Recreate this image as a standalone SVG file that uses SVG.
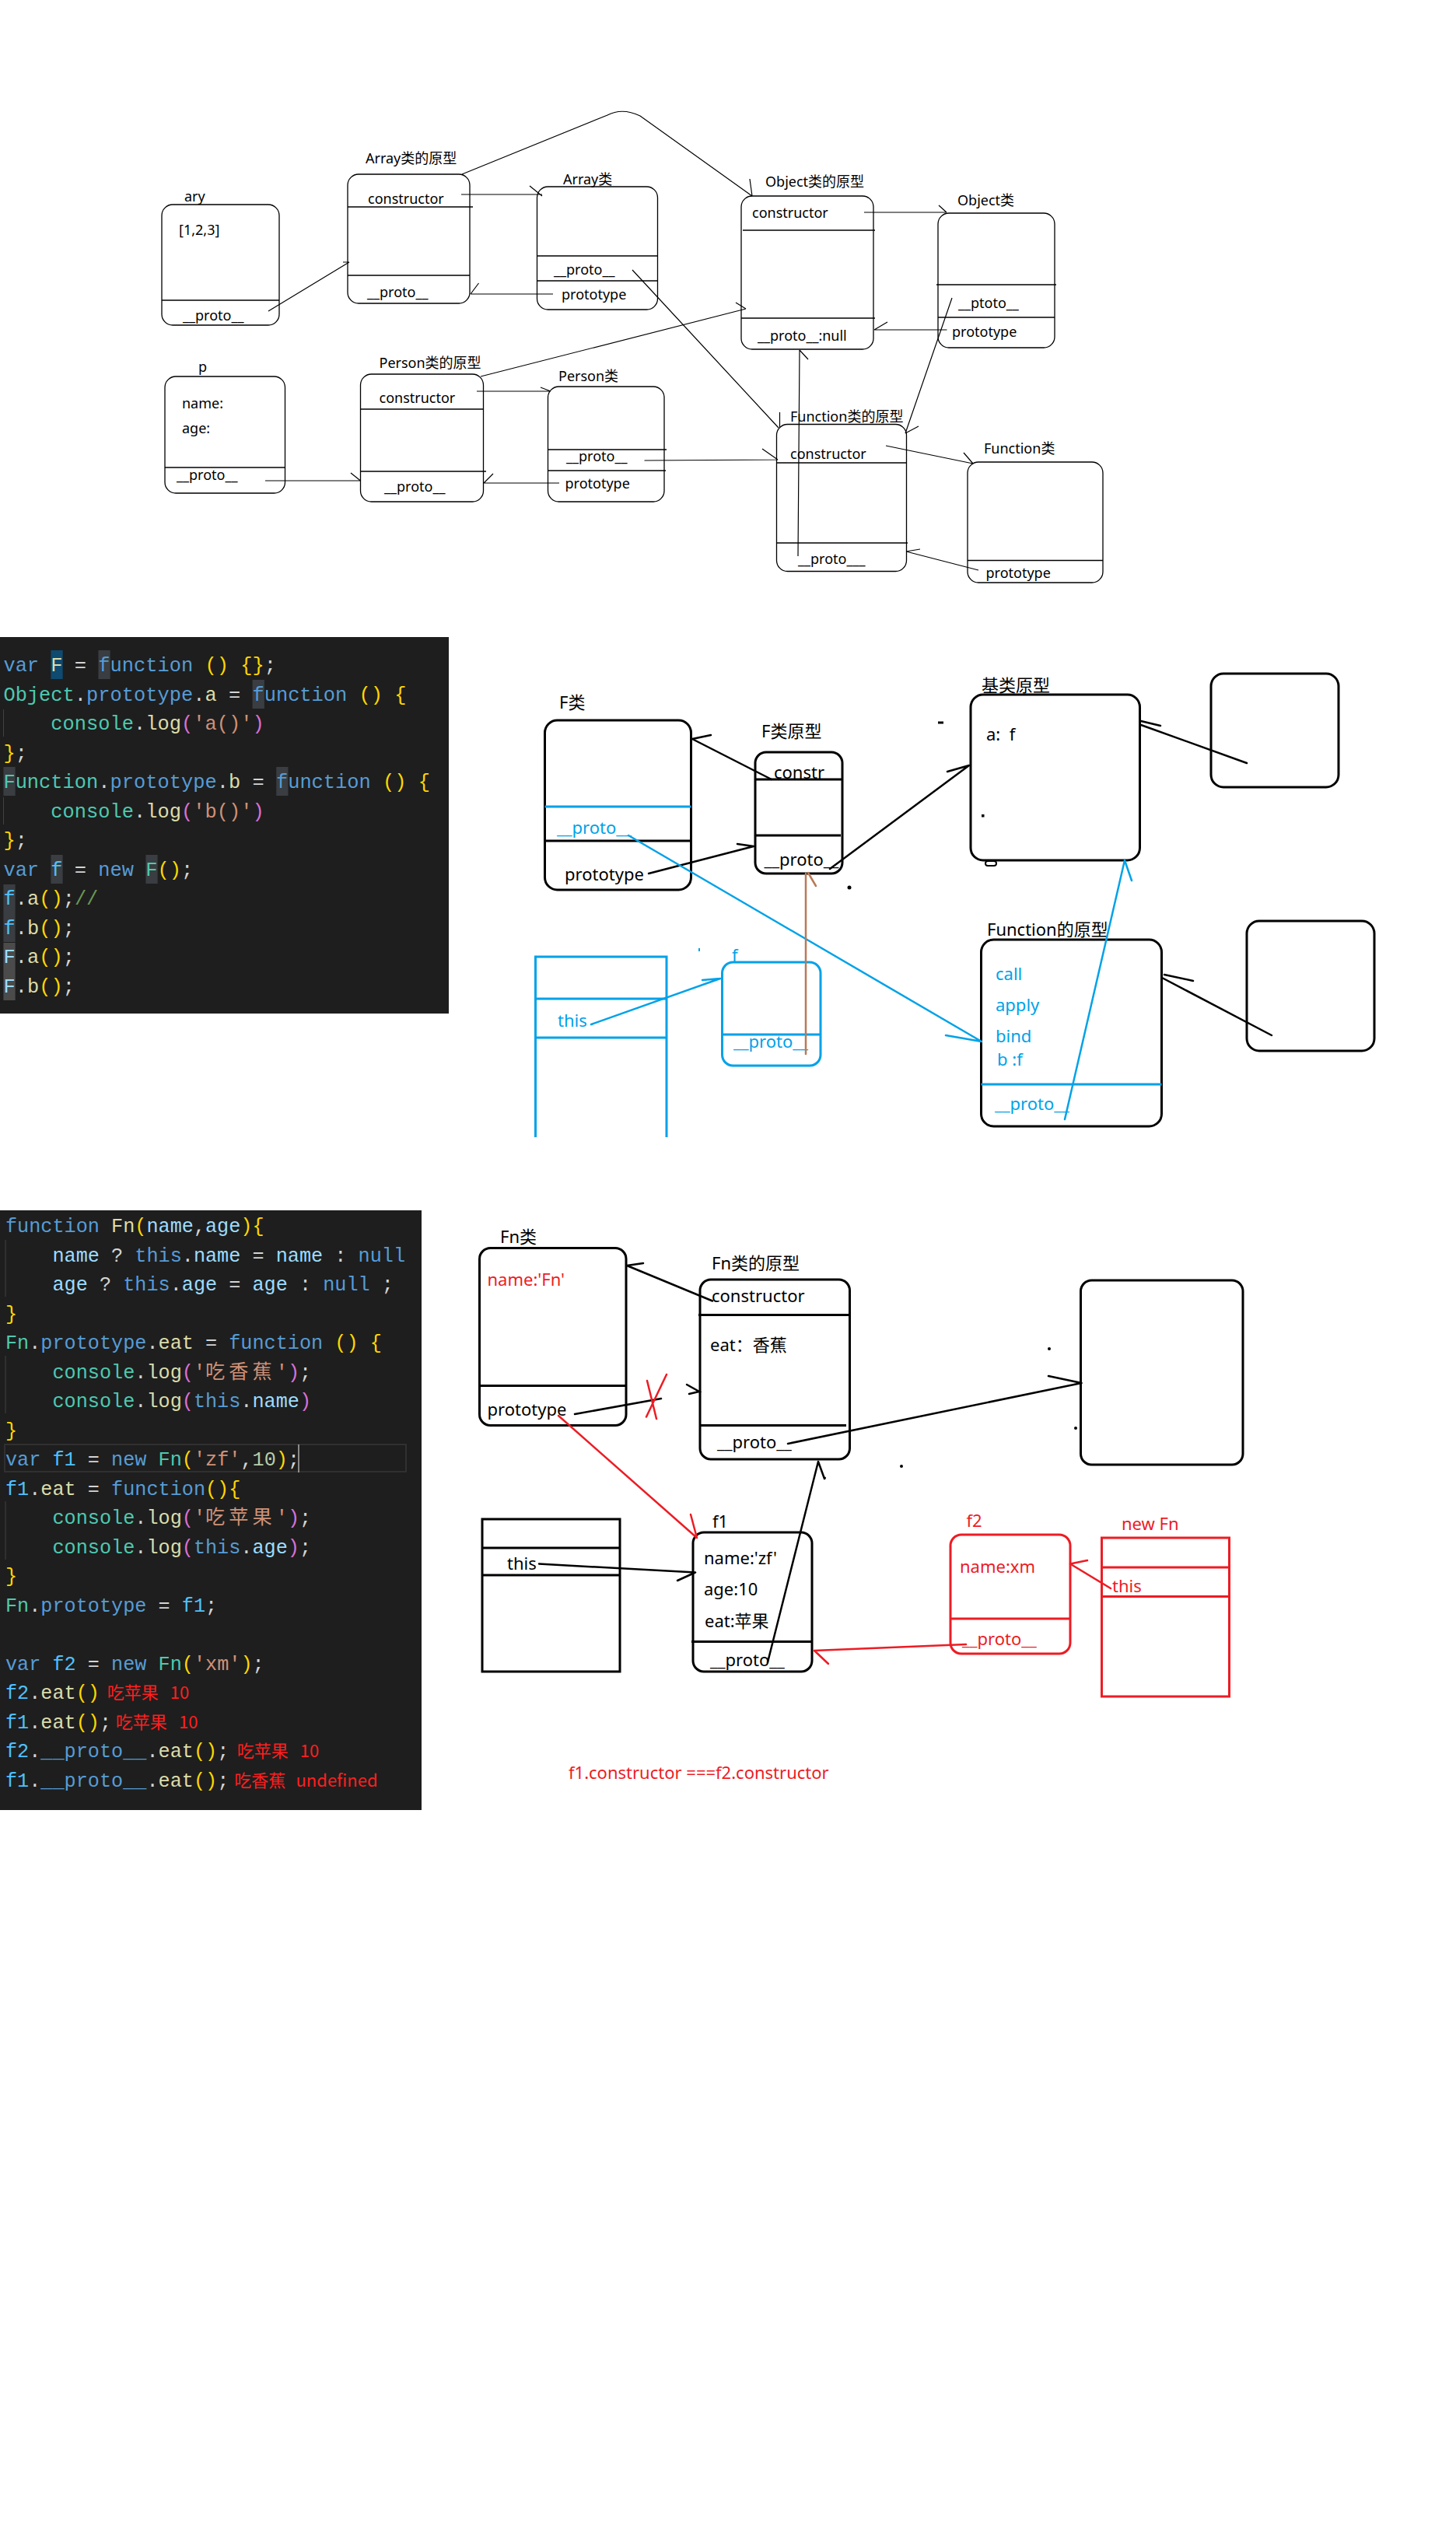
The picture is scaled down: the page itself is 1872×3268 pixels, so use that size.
<svg xmlns="http://www.w3.org/2000/svg" width="1872" height="3268" viewBox="0 0 1872 3268">
<style>
.s18{font-family:"Noto Sans","Noto Sans CJK SC",sans-serif;font-size:18px;fill:#000}
.s22{font-family:"Noto Sans","Noto Sans CJK SC",sans-serif;font-size:22px;fill:#000}
.bl{fill:#00A2E8}
.rd{fill:#ED1C24}
.b1{fill:none;stroke:#000;stroke-width:1.3}
.b3{fill:none;stroke:#000;stroke-width:3}
.bb3{fill:none;stroke:#00A2E8;stroke-width:3}
.br3{fill:none;stroke:#ED1C24;stroke-width:3}
.l1{fill:none;stroke:#000;stroke-width:1.2}
.l2{fill:none;stroke:#000;stroke-width:2.5;stroke-linecap:round}
.lb{fill:none;stroke:#00A2E8;stroke-width:2.5;stroke-linecap:round}
.lr{fill:none;stroke:#ED1C24;stroke-width:2.5;stroke-linecap:round}
.lbr{fill:none;stroke:#B97A57;stroke-width:2.5;stroke-linecap:round}
.code1{font-family:"Liberation Mono","Noto Sans CJK SC",monospace;font-size:25.4px;fill:#D4D4D4}
.code2{font-family:"Liberation Mono","Noto Sans CJK SC",monospace;font-size:25.2px;fill:#D4D4D4}
.kw{fill:#569CD6}.ty{fill:#4EC9B0}.fn{fill:#DCDCAA}.br{fill:#FFD700}.pa{fill:#DA70D6}.st{fill:#CE9178}.vr{fill:#4FC1FF}.pr{fill:#9CDCFE}.nu{fill:#B5CEA8}.cm{fill:#6A9955}
.ann{font-family:"Noto Sans CJK SC","Noto Sans",sans-serif;font-size:22px;fill:#FF1F1F}
.hl{fill:#3A3D41}
.guide{stroke:#404040;stroke-width:1}
</style>

<!-- ================= TOP DIAGRAM ================= -->
<g id="ary">
<rect class="b1" x="208" y="263" width="151" height="155" rx="14"/>
<line class="b1" x1="208" y1="386" x2="359" y2="386"/>
<text class="s18" x="237" y="259">ary</text>
<text class="s18" x="230" y="302">[1,2,3]</text>
<text class="s18" x="235" y="412">__proto__</text>
</g>
<g id="array-proto">
<rect class="b1" x="447" y="224" width="157" height="166" rx="14"/>
<line class="b1" x1="447" y1="266" x2="608" y2="266"/>
<line class="b1" x1="447" y1="354" x2="604" y2="354"/>
<text class="s18" x="470" y="210">Array类的原型</text>
<text class="s18" x="473" y="262">constructor</text>
<text class="s18" x="472" y="382">__proto__</text>
</g>
<g id="array-class">
<rect class="b1" x="690.5" y="240" width="155" height="158" rx="14"/>
<line class="b1" x1="690.5" y1="329" x2="846" y2="329"/>
<line class="b1" x1="690.5" y1="361" x2="846" y2="361"/>
<text class="s18" x="724" y="237">Array类</text>
<text class="s18" x="712" y="353">__proto__</text>
<text class="s18" x="722" y="385">prototype</text>
</g>
<g id="object-proto">
<rect class="b1" x="953" y="252" width="170" height="197" rx="14"/>
<line class="b1" x1="955" y1="296" x2="1125" y2="296"/>
<line class="b1" x1="953" y1="409" x2="1125" y2="409"/>
<text class="s18" x="984" y="240">Object类的原型</text>
<text class="s18" x="967" y="280">constructor</text>
<text class="s18" x="974" y="438">__proto__:null</text>
</g>
<g id="object-class">
<rect class="b1" x="1206" y="274" width="150" height="173" rx="14"/>
<line class="b1" x1="1204" y1="366" x2="1358" y2="366"/>
<line class="b1" x1="1206" y1="408" x2="1356" y2="408"/>
<text class="s18" x="1231" y="264">Object类</text>
<text class="s18" x="1232" y="396">__ptoto__</text>
<text class="s18" x="1224" y="433">prototype</text>
</g>
<g id="p">
<rect class="b1" x="212" y="484" width="154.5" height="150" rx="14"/>
<line class="b1" x1="212" y1="601" x2="366.5" y2="601"/>
<text class="s18" x="255" y="478">p</text>
<text class="s18" x="234" y="525">name:</text>
<text class="s18" x="234" y="557">age:</text>
<text class="s18" x="227" y="617">__proto__</text>
</g>
<g id="person-proto">
<rect class="b1" x="463.5" y="481" width="158" height="164" rx="14"/>
<line class="b1" x1="463.5" y1="526" x2="622" y2="526"/>
<line class="b1" x1="463.5" y1="606" x2="625" y2="606"/>
<text class="s18" x="487.5" y="473">Person类的原型</text>
<text class="s18" x="487.5" y="518">constructor</text>
<text class="s18" x="494" y="632">__proto__</text>
</g>
<g id="person-class">
<rect class="b1" x="704.5" y="497" width="149.5" height="148" rx="14"/>
<line class="b1" x1="704.5" y1="578" x2="857" y2="578"/>
<line class="b1" x1="704.5" y1="605" x2="856" y2="605"/>
<text class="s18" x="718" y="490">Person类</text>
<text class="s18" x="728" y="593">__proto__</text>
<text class="s18" x="726.5" y="628">prototype</text>
</g>
<g id="function-proto">
<rect class="b1" x="998.5" y="545.5" width="167" height="189" rx="14"/>
<line class="b1" x1="998.5" y1="595" x2="1165.5" y2="595"/>
<line class="b1" x1="998.5" y1="698" x2="1167" y2="698"/>
<text class="s18" x="1016" y="542">Function类的原型</text>
<text class="s18" x="1016" y="590">constructor</text>
<text class="s18" x="1026" y="725">__proto___</text>
</g>
<g id="function-class">
<rect class="b1" x="1244" y="594" width="174" height="155" rx="14"/>
<line class="b1" x1="1244" y1="720.5" x2="1418" y2="720.5"/>
<text class="s18" x="1265" y="583">Function类</text>
<text class="s18" x="1267.5" y="743">prototype</text>
</g>

<!-- ================= CODE BLOCK 1 ================= -->
<g id="code1">
<rect x="0" y="819" width="577" height="484" fill="#1E1E1E"/>
<rect x="65.4" y="836" width="15.25" height="37" fill="#0F4A70"/>
<rect class="hl" x="126.4" y="836" width="15.25" height="37"/>
<rect class="hl" x="324.6" y="874" width="15.25" height="37"/>
<rect class="hl" x="4.4" y="986" width="15.25" height="37"/>
<rect class="hl" x="355.2" y="986" width="15.25" height="37"/>
<rect class="hl" x="65.4" y="1099" width="15.25" height="37"/>
<rect class="hl" x="187.4" y="1099" width="15.25" height="37"/>
<rect class="hl" x="4.4" y="1137" width="15.25" height="74"/>
<rect x="4.4" y="1212" width="15.25" height="74" fill="#4B4B4B"/>
<line class="guide" x1="4.5" y1="912" x2="4.5" y2="947"/>
<line class="guide" x1="4.5" y1="1025" x2="4.5" y2="1060"/>
<text class="code1" x="4.4" y="863" xml:space="preserve"><tspan class="kw">var</tspan> <tspan class="fn">F</tspan> = <tspan class="kw">function</tspan> <tspan class="br">()</tspan> <tspan class="br">{}</tspan>;</text>
<text class="code1" x="4.4" y="900.5" xml:space="preserve"><tspan class="ty">Object</tspan>.<tspan class="kw">prototype</tspan>.<tspan class="fn">a</tspan> = <tspan class="kw">function</tspan> <tspan class="br">()</tspan> <tspan class="br">{</tspan></text>
<text class="code1" x="4.4" y="938" xml:space="preserve">    <tspan class="ty">console</tspan>.<tspan class="fn">log</tspan><tspan class="pa">(</tspan><tspan class="st">'a()'</tspan><tspan class="pa">)</tspan></text>
<text class="code1" x="4.4" y="975.5" xml:space="preserve"><tspan class="br">}</tspan>;</text>
<text class="code1" x="4.4" y="1013" xml:space="preserve"><tspan class="ty">Function</tspan>.<tspan class="kw">prototype</tspan>.<tspan class="fn">b</tspan> = <tspan class="kw">function</tspan> <tspan class="br">()</tspan> <tspan class="br">{</tspan></text>
<text class="code1" x="4.4" y="1050.5" xml:space="preserve">    <tspan class="ty">console</tspan>.<tspan class="fn">log</tspan><tspan class="pa">(</tspan><tspan class="st">'b()'</tspan><tspan class="pa">)</tspan></text>
<text class="code1" x="4.4" y="1088" xml:space="preserve"><tspan class="br">}</tspan>;</text>
<text class="code1" x="4.4" y="1125.5" xml:space="preserve"><tspan class="kw">var</tspan> <tspan class="vr">f</tspan> = <tspan class="kw">new</tspan> <tspan class="ty">F</tspan><tspan class="br">()</tspan>;</text>
<text class="code1" x="4.4" y="1163" xml:space="preserve"><tspan class="vr">f</tspan>.<tspan class="fn">a</tspan><tspan class="br">()</tspan>;<tspan class="cm">//</tspan></text>
<text class="code1" x="4.4" y="1200.5" xml:space="preserve"><tspan class="vr">f</tspan>.<tspan class="fn">b</tspan><tspan class="br">()</tspan>;</text>
<text class="code1" x="4.4" y="1238" xml:space="preserve"><tspan class="pr">F</tspan>.<tspan class="fn">a</tspan><tspan class="br">()</tspan>;</text>
<text class="code1" x="4.4" y="1275.5" xml:space="preserve"><tspan class="pr">F</tspan>.<tspan class="fn">b</tspan><tspan class="br">()</tspan>;</text>
</g>

<!-- ================= MIDDLE DIAGRAM ================= -->
<g id="F-class">
<rect class="b3" x="700.5" y="926" width="188" height="218" rx="16"/>
<line class="bb3" x1="700.5" y1="1037" x2="888.5" y2="1037"/>
<line class="b3" x1="700.5" y1="1081" x2="888.5" y2="1081"/>
<text class="s22" x="719" y="911">F类</text>
<text class="s22 bl" x="716" y="1072">__proto__</text>
<text class="s22" x="726" y="1132">prototype</text>
</g>
<g id="F-proto">
<rect class="b3" x="971" y="967" width="112" height="156" rx="14"/>
<line class="b3" x1="971" y1="1002" x2="1083" y2="1002"/>
<line class="b3" x1="971" y1="1074" x2="1081" y2="1074"/>
<text class="s22" x="979" y="948">F类原型</text>
<text class="s22" x="995" y="1001">constr</text>
<text class="s22" x="982.5" y="1113">__proto__</text>
</g>
<g id="base-proto">
<rect class="b3" x="1248" y="893" width="217.5" height="213" rx="16"/>
<rect x="1267" y="1107" width="14" height="6" rx="3" fill="none" stroke="#000" stroke-width="2"/>
<rect x="1262" y="1047" width="3.5" height="3.5" fill="#000"/>
<text class="s22" x="1262" y="889">基类原型</text>
<text class="s22" x="1268" y="952" xml:space="preserve">a:  f</text>
</g>
<g id="box-right-1">
<rect class="b3" x="1557" y="866" width="164" height="146" rx="16"/>
</g>
<g id="function-proto-2">
<rect class="b3" x="1261.5" y="1208" width="232" height="240" rx="16"/>
<line class="bb3" x1="1261.5" y1="1394" x2="1493.5" y2="1394"/>
<text class="s22" x="1269" y="1203">Function的原型</text>
<text class="s22 bl" x="1280" y="1260">call</text>
<text class="s22 bl" x="1280" y="1300">apply</text>
<text class="s22 bl" x="1280" y="1340">bind</text>
<text class="s22 bl" x="1282" y="1370">b :f</text>
<text class="s22 bl" x="1279" y="1427">__proto__</text>
</g>
<g id="box-right-2">
<rect class="b3" x="1603" y="1184" width="164" height="167" rx="16"/>
</g>
<g id="this-frame-1">
<path class="bb3" d="M688.5,1462 V1230 H857 V1462"/>
<line class="bb3" x1="688.5" y1="1284" x2="857" y2="1284"/>
<line class="bb3" x1="688.5" y1="1334" x2="857" y2="1334"/>
<text class="s22 bl" x="717" y="1320">this</text>
</g>
<g id="f-obj">
<rect class="bb3" x="928.5" y="1237" width="126.5" height="133" rx="14"/>
<line class="bb3" x1="928.5" y1="1330" x2="1055" y2="1330"/>
<text class="s22 bl" x="941" y="1236">f</text>
<text class="s22 bl" x="943" y="1347">__proto__</text>
</g>
<g id="stray-marks-1">
<circle cx="1092" cy="1141" r="2.5" fill="#000"/>
<rect x="1206" y="927.5" width="7" height="3" fill="#000"/>
<rect x="898" y="1219" width="2" height="4" fill="#00A2E8"/>
</g>

<!-- ================= CODE BLOCK 2 ================= -->
<g id="code2">
<rect x="0" y="1556" width="542" height="771" fill="#1E1E1E"/>
<rect x="6" y="1857" width="516" height="35" fill="none" stroke="#303030" stroke-width="2"/>
<line x1="384" y1="1857" x2="384" y2="1893" stroke="#AEAFAD" stroke-width="1.5"/>
<line class="guide" x1="7" y1="1594" x2="7" y2="1667"/>
<line class="guide" x1="7" y1="1743" x2="7" y2="1817"/>
<line class="guide" x1="7" y1="1930" x2="7" y2="2005"/>
<text class="code2" x="7" y="1584" xml:space="preserve"><tspan class="kw">function</tspan> <tspan class="fn">Fn</tspan><tspan class="br">(</tspan><tspan class="pr">name</tspan>,<tspan class="pr">age</tspan><tspan class="br">){</tspan></text>
<text class="code2" x="7" y="1621.5" xml:space="preserve">    <tspan class="pr">name</tspan> ? <tspan class="kw">this</tspan>.<tspan class="pr">name</tspan> = <tspan class="pr">name</tspan> : <tspan class="kw">null</tspan></text>
<text class="code2" x="7" y="1659" xml:space="preserve">    <tspan class="pr">age</tspan> ? <tspan class="kw">this</tspan>.<tspan class="pr">age</tspan> = <tspan class="pr">age</tspan> : <tspan class="kw">null</tspan> ;</text>
<text class="code2" x="7" y="1696.5" xml:space="preserve"><tspan class="br">}</tspan></text>
<text class="code2" x="7" y="1734" xml:space="preserve"><tspan class="ty">Fn</tspan>.<tspan class="kw">prototype</tspan>.<tspan class="fn">eat</tspan> = <tspan class="kw">function</tspan> <tspan class="br">()</tspan> <tspan class="br">{</tspan></text>
<text class="code2" x="7" y="1771.5" xml:space="preserve">    <tspan class="ty">console</tspan>.<tspan class="fn">log</tspan><tspan class="pa">(</tspan><tspan class="st">'</tspan><tspan class="st" letter-spacing="5.04">吃香蕉</tspan><tspan class="st" x="354.8">'</tspan><tspan class="pa">)</tspan>;</text>
<text class="code2" x="7" y="1809" xml:space="preserve">    <tspan class="ty">console</tspan>.<tspan class="fn">log</tspan><tspan class="pa">(</tspan><tspan class="kw">this</tspan>.<tspan class="pr">name</tspan><tspan class="pa">)</tspan></text>
<text class="code2" x="7" y="1846.5" xml:space="preserve"><tspan class="br">}</tspan></text>
<text class="code2" x="7" y="1884" xml:space="preserve"><tspan class="kw">var</tspan> <tspan class="vr">f1</tspan> = <tspan class="kw">new</tspan> <tspan class="ty">Fn</tspan><tspan class="br">(</tspan><tspan class="st">'zf'</tspan>,<tspan class="nu">10</tspan><tspan class="br">)</tspan>;</text>
<text class="code2" x="7" y="1921.5" xml:space="preserve"><tspan class="vr">f1</tspan>.<tspan class="fn">eat</tspan> = <tspan class="kw">function</tspan><tspan class="br">(){</tspan></text>
<text class="code2" x="7" y="1959" xml:space="preserve">    <tspan class="ty">console</tspan>.<tspan class="fn">log</tspan><tspan class="pa">(</tspan><tspan class="st">'</tspan><tspan class="st" letter-spacing="5.04">吃苹果</tspan><tspan class="st" x="354.8">'</tspan><tspan class="pa">)</tspan>;</text>
<text class="code2" x="7" y="1996.5" xml:space="preserve">    <tspan class="ty">console</tspan>.<tspan class="fn">log</tspan><tspan class="pa">(</tspan><tspan class="kw">this</tspan>.<tspan class="pr">age</tspan><tspan class="pa">)</tspan>;</text>
<text class="code2" x="7" y="2034" xml:space="preserve"><tspan class="br">}</tspan></text>
<text class="code2" x="7" y="2071.5" xml:space="preserve"><tspan class="ty">Fn</tspan>.<tspan class="kw">prototype</tspan> = <tspan class="vr">f1</tspan>;</text>
<text class="code2" x="7" y="2146.5" xml:space="preserve"><tspan class="kw">var</tspan> <tspan class="vr">f2</tspan> = <tspan class="kw">new</tspan> <tspan class="ty">Fn</tspan><tspan class="br">(</tspan><tspan class="st">'xm'</tspan><tspan class="br">)</tspan>;</text>
<text class="code2" x="7" y="2184" xml:space="preserve"><tspan class="vr">f2</tspan>.<tspan class="fn">eat</tspan><tspan class="br">()</tspan></text>
<text class="code2" x="7" y="2221.5" xml:space="preserve"><tspan class="vr">f1</tspan>.<tspan class="fn">eat</tspan><tspan class="br">()</tspan>;</text>
<text class="code2" x="7" y="2259" xml:space="preserve"><tspan class="vr">f2</tspan>.<tspan class="kw">__proto__</tspan>.<tspan class="fn">eat</tspan><tspan class="br">()</tspan>;</text>
<text class="code2" x="7" y="2296.5" xml:space="preserve"><tspan class="vr">f1</tspan>.<tspan class="kw">__proto__</tspan>.<tspan class="fn">eat</tspan><tspan class="br">()</tspan>;</text>
<text class="ann" x="137.7" y="2184">吃苹果</text><text class="ann" x="218.7" y="2184">10</text>
<text class="ann" x="148.8" y="2221.5">吃苹果</text><text class="ann" x="230" y="2221.5">10</text>
<text class="ann" x="304.8" y="2259">吃苹果</text><text class="ann" x="385.7" y="2259">10</text>
<text class="ann" x="301.3" y="2296.5">吃香蕉</text><text class="ann" x="380.5" y="2296.5">undefined</text>
</g>

<!-- ================= BOTTOM DIAGRAM ================= -->
<g id="Fn-class">
<rect class="b3" x="616.5" y="1604.5" width="188.5" height="228" rx="14"/>
<line class="b3" x1="616.5" y1="1781.5" x2="805" y2="1781.5"/>
<text class="s22" x="643" y="1598">Fn类</text>
<text class="s22 rd" x="626.5" y="1653">name:'Fn'</text>
<text class="s22" x="626.5" y="1820">prototype</text>
</g>
<g id="Fn-proto">
<rect class="b3" x="900" y="1645" width="192.5" height="231" rx="14"/>
<line class="b3" x1="898" y1="1690.5" x2="1092.5" y2="1690.5"/>
<line class="b3" x1="900" y1="1832.5" x2="1088" y2="1832.5"/>
<text class="s22" x="915" y="1632">Fn类的原型</text>
<text class="s22" x="915" y="1674">constructor</text>
<text class="s22" x="913" y="1737">eat：香蕉</text>
<text class="s22" x="922" y="1862">__proto__</text>
</g>
<g id="this-frame-2">
<rect class="b3" x="620" y="1953" width="177" height="196"/>
<line class="b3" x1="620" y1="1990" x2="797" y2="1990"/>
<line class="b3" x1="620" y1="2025" x2="797" y2="2025"/>
<text class="s22" x="652" y="2018">this</text>
</g>
<g id="f1">
<rect class="b3" x="891" y="1970" width="153" height="179" rx="14"/>
<line class="b3" x1="889" y1="2110.5" x2="1044" y2="2110.5"/>
<text class="s22" x="916" y="1964">f1</text>
<text class="s22" x="905" y="2010.5">name:'zf'</text>
<text class="s22" x="905" y="2051">age:10</text>
<text class="s22" x="906" y="2091.5">eat:苹果</text>
<text class="s22" x="913" y="2142">__proto__</text>
</g>
<g id="box-right-3">
<rect class="b3" x="1389.5" y="1646" width="208.5" height="237" rx="14"/>
</g>
<g id="f2">
<rect class="br3" x="1222" y="1973" width="154" height="153" rx="14"/>
<line class="br3" x1="1222" y1="2081" x2="1376" y2="2081"/>
<text class="s22 rd" x="1242.5" y="1963">f2</text>
<text class="s22 rd" x="1234" y="2022">name:xm</text>
<text class="s22 rd" x="1237" y="2115">__proto__</text>
</g>
<g id="new-Fn">
<rect class="br3" x="1416.5" y="1977" width="164" height="204"/>
<line class="br3" x1="1416.5" y1="2015" x2="1580.5" y2="2015"/>
<line class="br3" x1="1416.5" y1="2052.5" x2="1580.5" y2="2052.5"/>
<text class="s22 rd" x="1442" y="1967">new Fn</text>
<text class="s22 rd" x="1430" y="2047">this</text>
</g>
<g id="note">
<text class="s22 rd" x="731" y="2287">f1.constructor ===f2.constructor</text>
</g>
<g id="stray-marks-2">
<circle cx="1349" cy="1734" r="2" fill="#000"/>
<circle cx="1383" cy="1836" r="2" fill="#000"/>
<circle cx="1159" cy="1885" r="2" fill="#000"/>
<circle cx="1060.5" cy="1900" r="1.5" fill="#000"/>
</g>

<!-- ================= CONNECTORS ================= -->
<g id="connectors">
<!-- top -->
<path class="l1" d="M345,400 L449,337 M441,337 L449,337"/>
<path class="l1" d="M593,250 L697,250 M681,239 L697,252"/>
<path class="l1" d="M711,378 L605,378 M615.5,364 L605,378"/>
<path class="l1" d="M594,224 L781,148 Q800,138 823,149 L967,252 M964,230 L967,252"/>
<path class="l1" d="M813,347 L1001,550 M1002.5,530 L1002.5,550"/>
<path class="l1" d="M618,484 L959,397 M946,389 L959,397"/>
<path class="l1" d="M1111,273 L1217,273 M1207,264 L1217,273"/>
<path class="l1" d="M1217.5,424 L1124,424 M1141,414 L1124,424"/>
<path class="l1" d="M1224,383 L1164,557 M1181,548 L1164,557"/>
<path class="l1" d="M1026,715 L1028,450 M1039,462 L1028,450"/>
<path class="l1" d="M341,618 L463.5,618 M451,608 L463.5,618"/>
<path class="l1" d="M613,503 L708,503 M695,498 L708,503"/>
<path class="l1" d="M719,621 L622,621 M634,609 L622,621"/>
<path class="l1" d="M828.5,592 L1000,591 M980,577 L1000,591"/>
<path class="l1" d="M1139,573 L1251,596 M1239,582 L1251,596"/>
<path class="l1" d="M1258,733 L1165,709 M1183,706 L1165,709"/>
<!-- middle -->
<path class="l2" d="M992,1002 L890,950 M914,945 L890,950"/>
<path class="l2" d="M834,1123 L969,1088 M948,1085 L969,1088"/>
<path class="l2" d="M1067,1117 L1246,984 M1218,992 L1246,984"/>
<path class="l2" d="M1603,981 L1467,932 M1492,933 L1467,927"/>
<path class="l2" d="M1635,1331 L1494,1257 M1534,1261 L1497,1253"/>
<path class="lb" d="M808,1074 L1262,1339 M1216,1331 L1262,1339"/>
<path class="lb" d="M760,1317 L926,1258 M903,1260 L926,1258"/>
<path class="lb" d="M1369,1439 L1446,1106 M1455,1132 L1446,1106"/>
<path class="lbr" d="M1036,1355 L1036,1123 M1049,1139 L1039,1122"/>
<!-- bottom -->
<path class="l2" d="M916,1672.5 L806,1627 M827,1624 L806,1627"/>
<path class="l2" d="M739,1818 L850,1798 M883,1780 L899,1789 L886,1792"/>
<path class="lr" d="M832,1775 L844,1824 M857,1767 L831,1821.5"/>
<path class="lr" d="M718,1820 L896,1977 M888,1947 L896,1977"/>
<path class="l2" d="M693,2010.5 L894,2021.5 M871,2032 L894,2021.5"/>
<path class="l2" d="M987,2137 L1052,1879 M1060,1901 L1052,1879"/>
<path class="l2" d="M1013,1856 L1390.5,1778 M1348,1769 L1390.5,1778"/>
<path class="lr" d="M1428,2042 L1376,2010.5 M1398,2006 L1376,2010.5"/>
<path class="lr" d="M1242,2114 L1047,2122 M1065,2139 L1047,2122"/>
</g>
</svg>
